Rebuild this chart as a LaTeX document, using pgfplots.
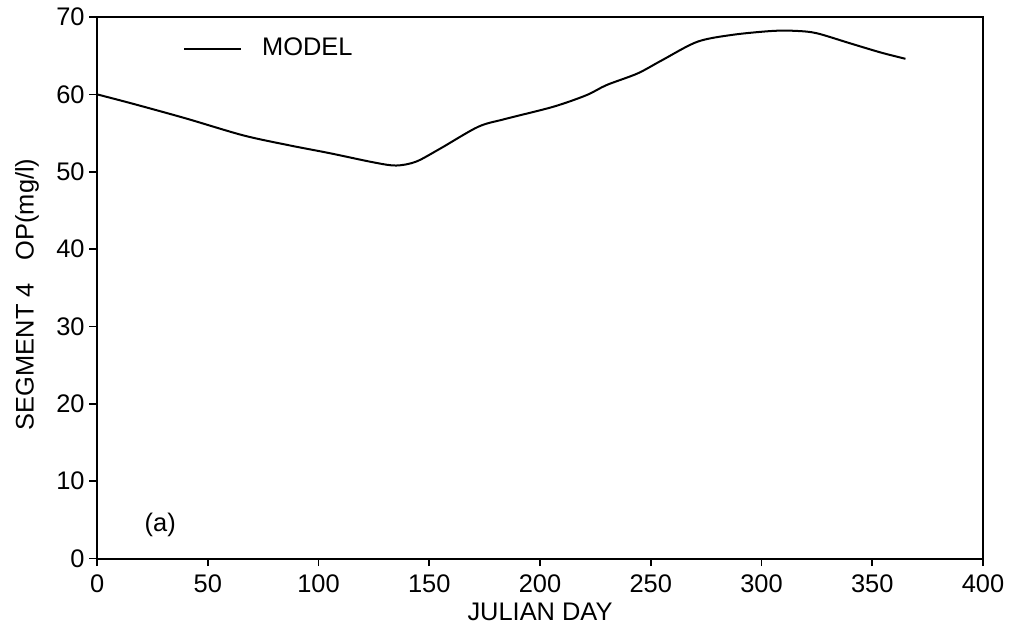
\documentclass[border=0pt]{standalone}
\usepackage{fontspec}
\setmainfont{Liberation Sans}
\usepackage{pgfplots}
\pgfplotsset{compat=1.18}
\begin{document}
\fontsize{12.7}{15.2}\selectfont
\begin{tikzpicture}
\begin{axis}[
scale only axis,
width=442.5pt,
height=270.5pt,
xmin=0,xmax=400,
ymin=0,ymax=70,
xtick={0,50,...,400},
ytick={0,10,...,70},
xtick pos=left,
ytick pos=left,
tick align=outside,
major tick length=3.8pt,
axis line style={line width=1pt},
every tick/.style={black,line width=0.8pt},
/pgf/number format/assume math mode=true,
ticklabel style={font=\fontsize{12.7}{15.2}\selectfont},
xticklabel style={yshift=0pt},
yticklabel style={xshift=2pt},
xlabel={JULIAN DAY},
ylabel={SEGMENT 4\hspace{0.9em}OP(mg/l)},
label style={font=\fontsize{12.7}{15.2}\selectfont},
xlabel style={at={(axis description cs:0.5,-0.098)},anchor=center},
ylabel style={at={(axis description cs:-0.079,0.488)},anchor=center},
legend style={at={(0.097,0.941)},anchor=west,draw=none,fill=none,
  font=\fontsize{12.7}{15.2}\selectfont,inner sep=0pt,
  /tikz/every even column/.append style={column sep=0pt}},
legend cell align=left,
legend image code/.code={\draw[black,line width=0.8pt] (0pt,0pt) -- (28.5pt,0pt);},
]
\addplot[black,line width=1pt,smooth] coordinates {
(0,60.0) (16,58.8) (40,56.9) (66,54.7) (87,53.4) (105,52.4) (125,51.2)
(135,50.8) (144,51.3) (155,53.0) (172,55.8) (184,56.8) (206,58.4)
(221,59.9) (230,61.2) (244,62.7) (255,64.4) (271,66.8) (287,67.7)
(305,68.2) (316,68.2) (325,67.9) (340,66.6) (354,65.4) (365,64.6)};
\addlegendentry{\hspace{8pt}MODEL}
\node[anchor=center] at (axis cs:28.5,4.3) {(a)};
\end{axis}
\pgfresetboundingbox
\path ([xshift=-48.5pt,yshift=-34pt]current axis.south west) rectangle ([xshift=15pt,yshift=8.5pt]current axis.north east);
\end{tikzpicture}
\end{document}
